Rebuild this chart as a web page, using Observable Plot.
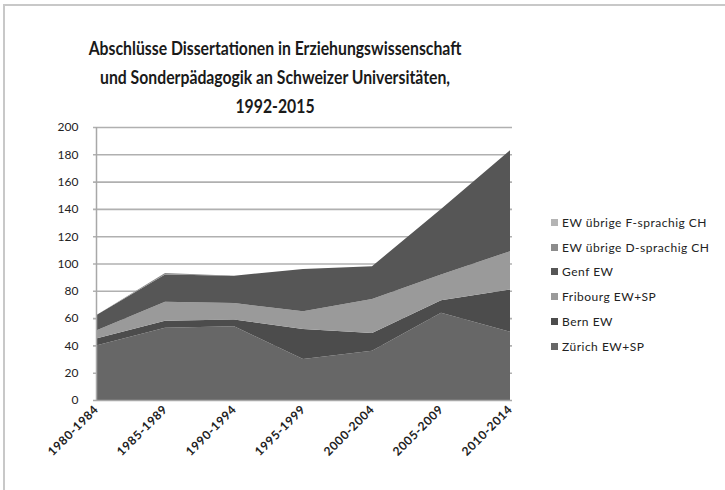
<!DOCTYPE html>
<html><head><meta charset="utf-8">
<script src="https://cdn.jsdelivr.net/npm/d3@7"></script>
<script src="https://cdn.jsdelivr.net/npm/@observablehq/plot@0.6"></script>
<style>
body{margin:0;background:#fff;font-family:Lato,"Open Sans",sans-serif;}
#chart{position:relative;width:725px;height:490px;overflow:hidden;background:#fff;}
#frame{position:absolute;left:3px;top:4px;width:780px;height:540px;border:2px solid #c8c8c8;box-sizing:border-box;}
#title{position:absolute;left:0;width:550px;top:33px;text-align:center;font-weight:bold;font-size:19px;line-height:29px;color:#1a1a1a;transform:scaleX(0.83);transform-origin:275px 0;}
#plot{position:absolute;left:0;top:120px;}
#legend{position:absolute;left:551px;top:210px;font-size:12px;letter-spacing:0.5px;color:#222;}
.row{height:24.8px;display:flex;align-items:center;}
.sw{width:7px;height:7px;margin-right:4px;}
</style></head>
<body>
<div id="chart">
  <div id="frame"></div>
  <div id="title">Abschlüsse Dissertationen in Erziehungswissenschaft<br>und Sonderpädagogik an Schweizer Universitäten,<br>1992-2015</div>
  <div id="plot"></div>
  <div id="legend"></div>
</div>
<script>
const periods = ["1980-1984","1985-1989","1990-1994","1995-1999","2000-2004","2005-2009","2010-2014"];
const series = ["Zürich EW+SP","Bern EW","Fribourg EW+SP","Genf EW","EW übrige D-sprachig CH","EW übrige F-sprachig CH"];
const zuerich   = [40, 53, 54, 30, 36, 64, 50];
const bern      = [ 5,  5,  5, 22, 13,  9, 31];
const fribourg  = [ 6, 14, 12, 13, 25, 19, 28];
const genf      = [11, 20, 20, 31, 24, 48, 74];
const dsprachig = [ 0,  1,  0,  0,  0,  0,  0];
const fsprachig = [ 0,  0,  0,  0,  0,  0,  0];
const yTicks = [0,20,40,60,80,100,120,140,160,180,200];
const colors = ["#676767","#4c4c4c","#9a9a9a","#565656","#8c8c8c","#b4b4b4"];

const values = [zuerich, bern, fribourg, genf, dsprachig, fsprachig];
const data = series.flatMap((s,i) => periods.map((p,j) => ({period:p, series:s, value:values[i][j]})));

const chart = Plot.plot({
  width: 560, height: 360,
  marginLeft: 93, marginRight: 48, marginTop: 7, marginBottom: 80,
  style: {fontFamily: "Lato, 'Open Sans', sans-serif", color:"#222", background:"transparent"},
  x: {type:"point", domain: periods, padding: 0, label: null},
  y: {domain:[0,200], label: null},
  color: {domain: series, range: colors},
  marks: [
    Plot.gridY(yTicks.filter(d => d > 0), {stroke:"#b0b0b0", strokeWidth:1.6, strokeOpacity:1}),
    Plot.areaY(data, {x:"period", y:"value", fill:"series", order: series}),
    Plot.ruleX([periods[0]], {stroke:"#a8a8a8", strokeWidth:1.5}),
    Plot.ruleY([0], {stroke:"#a8a8a8", strokeWidth:1.5}),
    Plot.axisY(yTicks, {tickSize:0, tickPadding:15, fontSize:12, label:null}),
    Plot.axisX({tickRotate:-45, tickSize:0, tickPadding:7, fontSize:12, fontWeight:"bold", label:null})
  ]
});
document.getElementById("plot").appendChild(chart);
d3.select(chart).selectAll('g[aria-label="x-axis tick label"] text').style("letter-spacing","0.6px");

const legend = d3.select("#legend");
series.slice().reverse().forEach(s => {
  const r = legend.append("div").attr("class","row");
  r.append("div").attr("class","sw").style("background", colors[series.indexOf(s)]);
  r.append("span").text(s);
});
</script>
</body></html>
